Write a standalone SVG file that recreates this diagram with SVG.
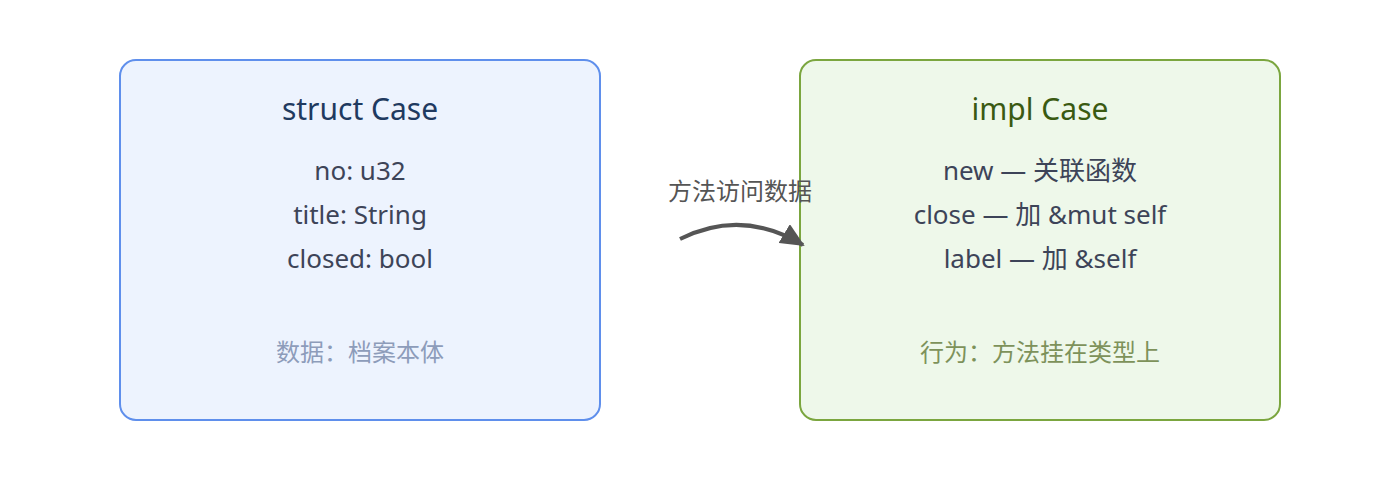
<svg xmlns="http://www.w3.org/2000/svg" width="1400" height="480" viewBox="0 0 1400 480">
<defs>
<style>
text{font-family:"Noto Sans","Noto Sans CJK SC",sans-serif;text-anchor:middle}
.title{font-size:30px}
.body{font-size:26px;fill:#3d4458}
.foot{font-size:24px}
.lbl{font-size:24px;fill:#555}
</style>
<marker id="ah" markerWidth="24" markerHeight="22" viewBox="0 0 12 11" refX="11" refY="5.5" orient="auto" markerUnits="userSpaceOnUse">
<path d="M0,0 L12,5.5 L0,11 z" fill="#555"/>
</marker>
</defs>
<rect width="1400" height="480" fill="#fff"/>
<g id="struct-case">
<rect x="120" y="60" width="480" height="360" rx="16" fill="#edf3fe" stroke="#5f8fec" stroke-width="2"/>
<text class="title" x="360" y="120" fill="#1f3a60">struct Case</text>
<text class="body" x="360" y="180">no: u32</text>
<text class="body" x="360" y="224">title: String</text>
<text class="body" x="360" y="268">closed: bool</text>
<text class="foot" x="360" y="361" fill="#8d9cba">数据：档案本体</text>
</g>
<g id="impl-case">
<rect x="800" y="60" width="480" height="360" rx="16" fill="#eef8ea" stroke="#7ba63f" stroke-width="2"/>
<text class="title" x="1040" y="120" fill="#3a5a12">impl Case</text>
<text class="body" x="1040" y="180">new — 关联函数</text>
<text class="body" x="1040" y="224">close — 加 &amp;mut self</text>
<text class="body" x="1040" y="268">label — 加 &amp;self</text>
<text class="foot" x="1040" y="361" fill="#7d925a">行为：方法挂在类型上</text>
</g>
<g id="connectors">
<path d="M680,239 Q742,208 803,245" fill="none" stroke="#555" stroke-width="4" marker-end="url(#ah)"/>
<text class="lbl" x="740" y="200">方法访问数据</text>
</g>
</svg>
